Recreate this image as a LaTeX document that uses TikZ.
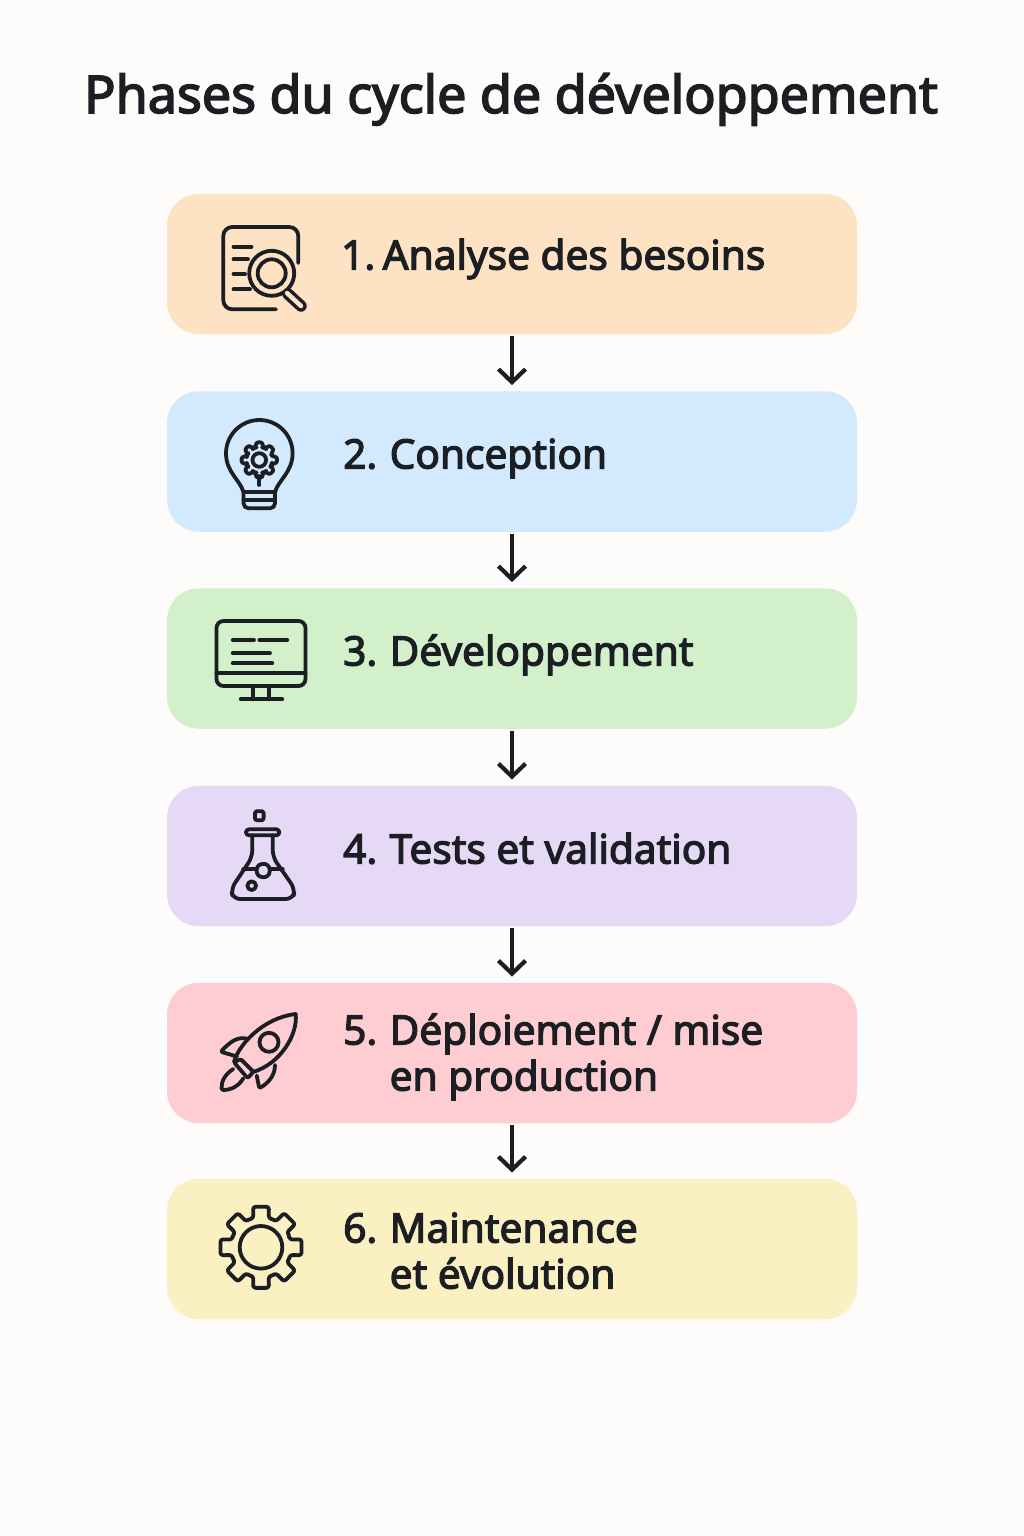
\documentclass[tikz,border=0pt]{standalone}
\usepackage{fontspec}
\setmainfont{Noto Sans}[FakeBold=3]
\usetikzlibrary{arrows.meta}
\definecolor{paper}{HTML}{FEFCFB}
\definecolor{ink}{HTML}{1B1E23}
\definecolor{peach}{HTML}{FDE3C4}
\definecolor{sky}{HTML}{D2E9FE}
\definecolor{leaf}{HTML}{D2F0C9}
\definecolor{lilac}{HTML}{E6D9F5}
\definecolor{rose}{HTML}{FDCDD2}
\definecolor{straw}{HTML}{FBF0C2}
\newcommand{\numbox}[1]{\makebox[46.5pt][l]{#1}}
\newcommand{\gearicon}[3]{%
	\draw[icon,rounded corners=2.5pt,shift={#1}] (-22.5:#2)
	\foreach \a in {0,45,...,315} { -- (\a-15:#2) -- (\a-11:#3) -- (\a+11:#3) -- (\a+15:#2) -- (\a+22.5:#2+0.5) };}
\tikzset{
	phasebox/.style={minimum width=690pt,minimum height=140.5pt,rounded corners=32pt,inner sep=0pt},
	phasetext/.style={anchor=base west,inner sep=0pt,text=ink,font=\fontsize{40.6}{46}\selectfont},
	flow/.style={draw=ink,line width=4pt,shorten <=2pt,shorten >=6pt,-{Straight Barb[length=13pt,width=27pt,line width=4.2pt]}},
	icon/.style={draw=ink,line width=3.8pt,line cap=round,line join=round},
}
\begin{document}
\begin{tikzpicture}[x=1pt,y=-1pt]
	\fill[paper] (0,0) rectangle (1024,1536);
	\useasboundingbox (0,0) rectangle (1024,1536);
	\node[anchor=base,inner sep=0pt,text=ink,font=\fontsize{52}{60}\selectfont] (title) at (511,113) {Phases du cycle de développement};
	%phases
	\node[phasebox,fill=peach] (analyse) at (512,264) {};
	\node[phasebox,fill=sky] (conception) at (512,461.5) {};
	\node[phasebox,fill=leaf] (dev) at (512,658.5) {};
	\node[phasebox,fill=lilac] (tests) at (512,856) {};
	\node[phasebox,fill=rose] (deploy) at (512,1053) {};
	\node[phasebox,fill=straw] (maint) at (512,1249) {};
	\foreach \i/\j in {analyse/conception, conception/dev, dev/tests, tests/deploy, deploy/maint}
	\draw[flow] (\i) -- (\j);
	%labels
	\node[phasetext] (t1) at (341,269.5) {\makebox[41.5pt][l]{1.}Analyse des besoins};
	\node[phasetext] (t2) at (343,468.5) {\numbox{2.}Conception};
	\node[phasetext] (t3) at (343,665.5) {\numbox{3.}Développement};
	\node[phasetext] (t4) at (343,863.5) {\numbox{4.}Tests et validation};
	\node[phasetext] (t5) at (343,1044.5) {\numbox{5.}Déploiement / mise};
	\node[phasetext] (t5b) at (389.5,1090.5) {en production};
	\node[phasetext] (t6) at (343,1242.5) {\numbox{6.}Maintenance};
	\node[phasetext] (t6b) at (389.5,1288.5) {et évolution};
	%document and lens
	\draw[icon,rounded corners=9pt] (298.3,263) -- (298.3,227) -- (223.3,227) -- (223.3,309.3) -- (276,309.3);
	\foreach \y/\xb in {246.7/251.5, 259.3/248, 274/245, 289.3/250}
	\draw[icon] (233.5,\y) -- (\xb,\y);
	\draw[icon] (271.7,273.3) circle (22.5);
	\draw[icon] (271.7,273.3) circle (14);
	\draw[ink,line width=11.5pt,line cap=round] (288,294) -- (301,306);
	\draw[peach,line width=4.5pt,line cap=round] (287,293) -- (301,306);
	%bulb
	\draw[icon] (243.5,492) .. controls (240,480) and (226,472) .. (226,453.3) .. controls (226,435) and (241,420) .. (259.3,420) .. controls (278,420) and (292.6,435) .. (292.6,453.3) .. controls (292.6,472) and (278.5,480) .. (275,492) -- cycle;
	\draw[icon,rounded corners=5pt] (243.5,492) -- (243.5,508.3) -- (275,508.3) -- (275,492);
	\draw[icon] (243.5,500) -- (275,500);
	\gearicon{(259.3,460)}{13}{18}
	\draw[icon] (259.3,460) circle (6.8);
	\draw[icon] (259.3,476) -- (259.3,485);
	%monitor
	\draw[icon,rounded corners=7pt] (216.5,621) rectangle (305.5,686);
	\draw[icon] (216.5,673.3) -- (305.5,673.3);
	\draw[icon] (232.7,640) -- (254,640);
	\draw[icon] (259.3,640) -- (287.3,640);
	\draw[icon] (232.7,653.3) -- (270,653.3);
	\draw[icon] (232.7,663.3) -- (272.3,663.3);
	\draw[icon] (252.7,686) -- (252.7,699.3);
	\draw[icon] (269.3,686) -- (269.3,699.3);
	\draw[icon] (240.7,699.3) -- (282.3,699.3);
	%flask
	\draw[icon,rounded corners=2pt] (255,811.2) rectangle (263.6,820.2);
	\draw[icon,rounded corners=3pt] (246,829.3) rectangle (279.3,835.3);
	\draw[icon,rounded corners=7pt] (252.3,835.3) -- (252.3,857) -- (231,889) -- (233,899) -- (293,899) -- (295,889) -- (272.7,857) -- (272.7,835.3);
	\draw[icon] (243.3,869.3) -- (256,869.3);
	\draw[icon] (270.5,869.3) -- (282.7,869.3);
	\draw[icon,rounded corners=3pt] (257,866) -- (262,863.5) -- (268,864.5) -- (270.5,871) -- (267.5,877) -- (261,877.5) -- (256.5,874) -- cycle;
	\draw[icon] (251.7,885.7) circle (4.3);
	%rocket
	\draw[icon] (234,1062) .. controls (238,1046) and (262,1018) .. (295.7,1014) .. controls (298,1035) and (280,1064) .. (253,1072);
	\draw[icon,rounded corners=1.5pt] (234,1062.3) -- (240.7,1059) -- (253.3,1071.7) -- (247.7,1078.3) -- cycle;
	\draw[icon] (269,1042.3) circle (9.5);
	\draw[icon,rounded corners=1.5pt] (246.7,1038.5) .. controls (238,1037) and (232,1040) .. (220.7,1051.7) -- (237,1056.5);
	\draw[icon,rounded corners=1.5pt] (275,1065) .. controls (275,1074) and (270,1082) .. (259.3,1088.3) -- (256.7,1075.5);
	\draw[icon,rounded corners=1.5pt] (233.3,1069) .. controls (225,1074) and (221,1082) .. (221.7,1090) .. controls (231,1090) and (239,1086) .. (243.3,1078.3);
	%gear
	\gearicon{(261,1247.3)}{30}{41.3}
	\draw[icon] (261,1247.3) circle (21.3);
\end{tikzpicture}
\end{document}
